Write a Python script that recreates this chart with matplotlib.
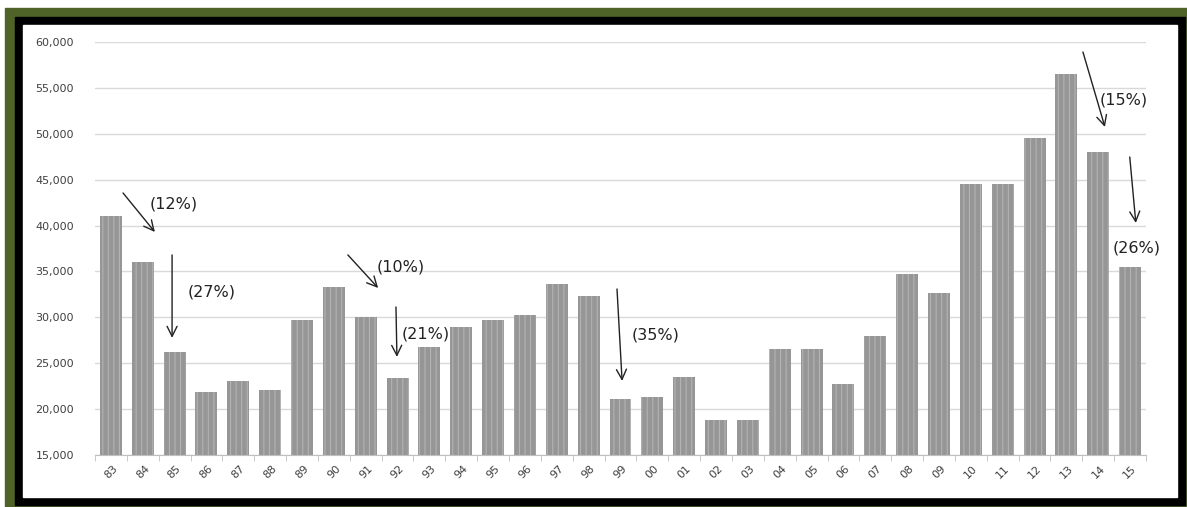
import matplotlib.pyplot as plt
from matplotlib.patches import Rectangle
from matplotlib.ticker import FuncFormatter, FixedLocator

anios = ['83', '84', '85', '86', '87', '88', '89', '90', '91', '92', '93',
         '94', '95', '96', '97', '98', '99', '00', '01', '02', '03', '04',
         '05', '06', '07', '08', '09', '10', '11', '12', '13', '14', '15']
valores = [41000, 36000, 26200, 21900, 23100, 22100, 29700, 33300, 30000,
           23400, 26800, 29000, 29700, 30200, 33600, 32300, 21100, 21300,
           23500, 18800, 18800, 26500, 26500, 22700, 28000, 34700, 32700,
           44500, 44500, 49500, 56500, 48000, 35500]

# caidas: texto, inicio flecha, fin flecha, posicion texto (indice, valor)
caidas_texto = ['(12%)', '(27%)', '(10%)', '(21%)', '(35%)', '(15%)', '(26%)']
caidas_desde = [(0.38, 43550), (1.92, 36800), (7.44, 36800), (8.95, 31130),
                (15.89, 33090), (30.52, 58910), (31.99, 47470)]
caidas_hasta = [(1.38, 39300), (1.92, 27760), (8.39, 33200), (8.98, 25690),
                (16.05, 23070), (31.21, 50740), (32.18, 40280)]
caidas_pos = [(1.23, 42350), (2.42, 32770), (8.35, 35490), (9.14, 28190),
              (16.36, 28080), (31.04, 53680), (31.46, 37560)]

plt.rcParams['hatch.linewidth'] = 0.8
fig = plt.figure(figsize=(11.87, 5.07), dpi=100)
fig.patch.set_facecolor('white')

W, H = 1187, 507
def marco(x0, y0, x1, y1, color):
    fig.patches.append(Rectangle((x0 / W, 1 - y1 / H), (x1 - x0) / W, (y1 - y0) / H,
                                 transform=fig.transFigure, color=color, zorder=-3))
marco(5, 8, 1187, 507, '#4f6228')
marco(15, 17, 1185, 505, 'black')
marco(23, 25, 1177, 497, 'white')

ax = fig.add_axes([95 / W, 1 - 455 / H, (1146 - 95) / W, (455 - 42) / H])
ax.set_facecolor('none')

pos = list(range(len(anios)))
ax.bar(pos, valores, width=0.69, color='#969696', edgecolor='#b3b3b3',
       linewidth=0, hatch='|||', zorder=2)

ax.set_ylim(15000, 60000)
ax.set_xlim(-0.5, len(anios) - 0.5)
ax.set_yticks(range(15000, 60001, 5000))
ax.yaxis.set_major_formatter(FuncFormatter(lambda v, p: f'{int(v):,}'))
ax.grid(axis='y', color='#d9d9d9', linewidth=1, zorder=0)
ax.set_axisbelow(True)

ax.set_xticks(pos)
ax.set_xticklabels(anios, rotation=45, ha='center')
ax.xaxis.set_minor_locator(FixedLocator([i - 0.5 for i in range(len(anios) + 1)]))
ax.tick_params(axis='x', which='major', length=0, pad=6, labelsize=8, labelcolor='#404040')
ax.tick_params(axis='x', which='minor', length=4, color='#bfbfbf', direction='out')
ax.tick_params(axis='y', length=0, pad=15, labelsize=8, labelcolor='#404040')

for lado in ['left', 'right', 'top']:
    ax.spines[lado].set_visible(False)
ax.spines['bottom'].set_color('#bfbfbf')

for txt, a, b, p in zip(caidas_texto, caidas_desde, caidas_hasta, caidas_pos):
    ax.annotate('', xy=b, xytext=a,
                arrowprops=dict(arrowstyle='->', color='#222222', lw=1,
                                mutation_scale=18, shrinkA=0, shrinkB=0))
    ax.text(p[0], p[1], txt, fontsize=11.5, ha='left', va='center', color='#222222',
            family='Liberation Sans Narrow')

fig.savefig('out.png', dpi=100)
